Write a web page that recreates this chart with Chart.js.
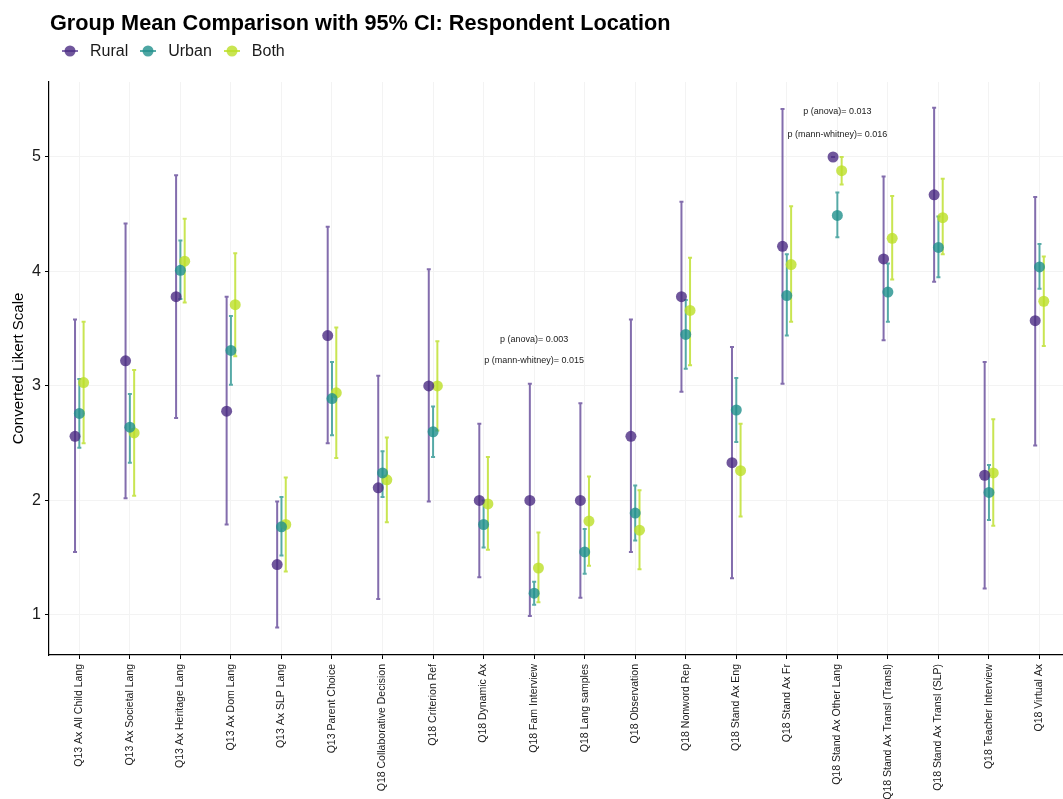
<!DOCTYPE html>
<html>
<head>
<meta charset="utf-8">
<script src="https://cdn.jsdelivr.net/npm/chart.js@4.4.1/dist/chart.umd.min.js"></script>
<style>
  html, body { margin: 0; padding: 0; background: #fff; }
  #wrap { position: relative; width: 1063px; height: 799px; overflow: hidden; }
  #title {
    position: absolute; left: 50px; top: 10px;
    font: bold 21.7px "Liberation Sans", Arial, sans-serif; color: #000;
    white-space: nowrap;
  }
  #legend {
    position: absolute; left: 61px; top: 42px; display: flex; align-items: center;
    font: 16px "Liberation Sans", Arial, sans-serif; color: #1a1a1a;
  }
  #legend .item { display: flex; align-items: center; margin-right: 11px; }
  #legend canvas { margin-right: 11px; }
</style>
</head>
<body>
<div id="wrap">
  <!-- el lienzo es un poco mas ancho: el margen derecho de las etiquetas queda fuera de la vista -->
  <canvas id="myChart" width="1069" height="799"></canvas>
  <div id="title">Group Mean Comparison with 95% CI: Respondent Location</div>
  <div id="legend"></div>
</div>
<script>
// categorias del eje x
const categories = [
  'Q13 Ax All Child Lang', 'Q13 Ax Societal Lang', 'Q13 Ax Heritage Lang', 'Q13 Ax Dom Lang',
  'Q13 Ax SLP Lang', 'Q13 Parent Choice', 'Q18 Collaborative Decision', 'Q18 Criterion Ref',
  'Q18 Dynamic Ax', 'Q18 Fam Interview', 'Q18 Lang samples', 'Q18 Observation',
  'Q18 Nonword Rep', 'Q18 Stand Ax Eng', 'Q18 Stand Ax Fr', 'Q18 Stand Ax Other Lang',
  'Q18 Stand Ax Transl (Transl)', 'Q18 Stand Ax Transl (SLP)', 'Q18 Teacher Interview', 'Q18 Virtual Ax'
];

// medias e intervalos (95% CI)
const rural   = [2.56, 3.22, 3.78, 2.78, 1.44, 3.44, 2.11, 3.00, 2.00, 2.00, 2.00, 2.56, 3.78, 2.33, 4.22, 5.00, 4.11, 4.67, 2.22, 3.57];
const ruralLo = [1.55, 2.02, 2.72, 1.79, 0.89, 2.50, 1.14, 1.99, 1.33, 0.99, 1.15, 1.55, 2.95, 1.32, 3.02, 5.00, 3.40, 3.91, 1.23, 2.48];
const ruralHi = [3.58, 4.42, 4.84, 3.78, 1.99, 4.39, 3.09, 4.02, 2.67, 3.02, 2.85, 3.58, 4.61, 3.34, 5.42, 5.00, 4.83, 5.43, 3.21, 4.65];

const urban   = [2.76, 2.64, 4.01, 3.31, 1.77, 2.89, 2.24, 2.60, 1.79, 1.19, 1.55, 1.89, 3.45, 2.79, 3.79, 4.49, 3.82, 4.21, 2.07, 4.04];
const urbanLo = [2.46, 2.33, 3.76, 3.01, 1.52, 2.57, 2.03, 2.38, 1.59, 1.09, 1.36, 1.65, 3.15, 2.51, 3.44, 4.30, 3.56, 3.95, 1.83, 3.85];
const urbanHi = [3.06, 2.93, 4.27, 3.61, 2.03, 3.21, 2.43, 2.82, 2.00, 1.29, 1.75, 2.13, 3.75, 3.07, 4.15, 4.69, 4.07, 4.48, 2.31, 4.24];

const both    = [3.03, 2.59, 4.09, 3.71, 1.79, 2.94, 2.18, 3.00, 1.97, 1.41, 1.82, 1.74, 3.66, 2.26, 4.06, 4.88, 4.29, 4.47, 2.24, 3.74];
const bothLo  = [2.50, 2.04, 3.73, 3.26, 1.38, 2.37, 1.81, 2.61, 1.57, 1.11, 1.43, 1.40, 3.18, 1.86, 3.56, 4.76, 3.93, 4.15, 1.78, 3.35];
const bothHi  = [3.56, 3.14, 4.46, 4.16, 2.20, 3.51, 2.55, 3.39, 2.38, 1.72, 2.21, 2.09, 4.12, 2.67, 4.57, 5.00, 4.66, 4.81, 2.71, 4.13];

const yTicks = [1, 2, 3, 4, 5];

// anotaciones de p-valores (categoria, lineas)
const pNotes = [
  { cat: 'Q18 Fam Interview', lines: ['p (anova)= 0.003', 'p (mann-whitney)= 0.015'], y: [3.41, 3.22] },
  { cat: 'Q18 Stand Ax Other Lang', lines: ['p (anova)= 0.013', 'p (mann-whitney)= 0.016'], y: [5.40, 5.20] }
];

const FONT = '"Liberation Sans", Arial, sans-serif';
const dodge = 0.085;

function makeSeries(label, mean, lo, hi, offset, point, line) {
  return {
    label: label,
    data: mean.map((m, i) => ({ x: i + 1 + offset, y: m, lo: lo[i], hi: hi[i] })),
    backgroundColor: point,
    borderColor: point,
    pointRadius: 5.5,
    pointHoverRadius: 5.5,
    pointBorderWidth: 0,
    barColor: line
  };
}

const errorBars = {
  id: 'errorBars',
  beforeDatasetsDraw(chart) {
    const ctx = chart.ctx;
    const xs = chart.scales.x, ys = chart.scales.y;
    chart.data.datasets.forEach(ds => {
      ctx.save();
      ctx.strokeStyle = ds.barColor;
      ctx.lineWidth = 2;
      ds.data.forEach(p => {
        const x = xs.getPixelForValue(p.x);
        const y1 = ys.getPixelForValue(p.lo);
        const y2 = ys.getPixelForValue(p.hi);
        ctx.beginPath();
        ctx.moveTo(x, y1); ctx.lineTo(x, y2);
        ctx.moveTo(x - 2, y1); ctx.lineTo(x + 2, y1);
        ctx.moveTo(x - 2, y2); ctx.lineTo(x + 2, y2);
        ctx.stroke();
      });
      ctx.restore();
    });
  }
};

const pLabels = {
  id: 'pLabels',
  afterDatasetsDraw(chart) {
    const ctx = chart.ctx;
    const xs = chart.scales.x, ys = chart.scales.y;
    ctx.save();
    ctx.font = '9px ' + FONT;
    ctx.fillStyle = '#222';
    ctx.textAlign = 'center';
    ctx.textBaseline = 'middle';
    pNotes.forEach(n => {
      const x = xs.getPixelForValue(categories.indexOf(n.cat) + 1);
      n.lines.forEach((t, k) => ctx.fillText(t, x, ys.getPixelForValue(n.y[k])));
    });
    ctx.restore();
  }
};

const ctx = document.getElementById('myChart').getContext('2d');
const chart = new Chart(ctx, {
  type: 'scatter',
  data: {
    datasets: [
      makeSeries('Rural', rural, ruralLo, ruralHi, -dodge, 'rgba(72,40,128,0.78)', 'rgba(90,60,145,0.75)'),
      makeSeries('Urban', urban, urbanLo, urbanHi, 0, 'rgba(33,144,140,0.8)', 'rgba(33,144,140,0.75)'),
      makeSeries('Both', both, bothLo, bothHi, dodge, 'rgba(187,223,39,0.8)', 'rgba(187,223,39,0.8)')
    ]
  },
  options: {
    responsive: false,
    animation: false,
    layout: { padding: { top: 82, left: 0, right: 0, bottom: 0 } },
    plugins: {
      legend: { display: false },
      title: { display: false },
      tooltip: { enabled: false }
    },
    scales: {
      x: {
        type: 'linear',
        min: 0.4,
        max: 20.475,
        afterBuildTicks: s => { s.ticks = categories.map((c, i) => ({ value: i + 1 })); },
        afterFit: s => { s.height = 144; },
        ticks: {
          autoSkip: false,
          minRotation: 90,
          maxRotation: 90,
          padding: 5,
          color: '#1a1a1a',
          font: { family: FONT, size: 10.5 },
          callback: v => categories[v - 1]
        },
        grid: { color: '#f3f3f3', lineWidth: 1, tickLength: 4, tickColor: '#000' },
        border: { display: true, color: '#000', width: 1.2 }
      },
      y: {
        min: 0.65,
        max: 5.655,
        afterBuildTicks: s => { s.ticks = yTicks.map(v => ({ value: v })); },
        afterFit: s => { s.width = 49; },
        ticks: {
          padding: 4,
          color: '#1a1a1a',
          font: { family: FONT, size: 16 }
        },
        grid: { color: '#f3f3f3', lineWidth: 1, tickLength: 4, tickColor: '#000' },
        border: { display: true, color: '#000', width: 1.2 },
        title: {
          display: true,
          text: 'Converted Likert Scale',
          color: '#000',
          font: { family: FONT, size: 15 },
          padding: { top: 10, bottom: 0 }
        }
      }
    }
  },
  plugins: [errorBars, pLabels]
});

// leyenda en HTML con marcador punto + linea
const legendEl = document.getElementById('legend');
chart.data.datasets.forEach(ds => {
  const item = document.createElement('div');
  item.className = 'item';
  const c = document.createElement('canvas');
  c.width = 18; c.height = 14;
  const g = c.getContext('2d');
  g.strokeStyle = ds.barColor; g.lineWidth = 2;
  g.beginPath(); g.moveTo(1, 7); g.lineTo(17, 7); g.stroke();
  g.fillStyle = ds.backgroundColor;
  g.beginPath(); g.arc(9, 7, 5.5, 0, Math.PI * 2); g.fill();
  const span = document.createElement('span');
  span.textContent = ds.label;
  item.appendChild(c); item.appendChild(span);
  legendEl.appendChild(item);
});
</script>
</body>
</html>
